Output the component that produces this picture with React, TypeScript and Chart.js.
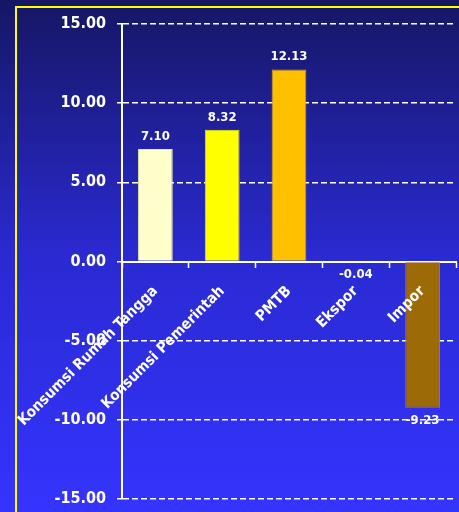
import React, { useEffect, useRef } from "react";
import { Chart, registerables } from "chart.js";

Chart.register(...registerables);

const categories = ["Konsumsi Rumah Tangga", "Konsumsi Pemerintah", "PMTB", "Ekspor", "Impor"];
const growthValues = [7.1, 8.32, 12.13, -0.04, -9.23];
const barColors = ["#ffffcc", "#ffff00", "#ffc000", "#cc9900", "#9c6a06"];
const barBorderColors = ["#e6e6b0", "#e6e600", "#d9a000", "#b08000", "#b07d20"];
const yMin = -15;
const yMax = 15;
const yStep = 5;

const FONT = "'Liberation Sans Narrow', 'DejaVu Sans Condensed', 'Liberation Sans', sans-serif";

const valueLabelPlugin = {
  id: "valueLabels",
  afterDatasetsDraw(chart: any) {
    const ctx = chart.ctx;
    const meta = chart.getDatasetMeta(0);
    ctx.save();
    ctx.font = `bold 13px ${FONT}`;
    ctx.fillStyle = "#ffffff";
    ctx.textAlign = "center";
    meta.data.forEach((bar: any, i: number) => {
      const v = growthValues[i];
      const { x, y } = bar.getProps(["x", "y"], true);
      const text = v.toFixed(2);
      if (v >= 0) {
        ctx.textBaseline = "bottom";
        ctx.fillText(text, x, y - 6);
      } else {
        ctx.textBaseline = "top";
        ctx.fillText(text, x, y + 6);
      }
    });
    ctx.restore();
  },
};

export default function App() {
  const canvasRef = useRef<HTMLCanvasElement | null>(null);

  useEffect(() => {
    if (!canvasRef.current) return;
    const chart = new Chart(canvasRef.current, {
      type: "bar",
      data: {
        labels: categories,
        datasets: [
          {
            data: growthValues,
            backgroundColor: barColors,
            borderColor: barBorderColors,
            borderWidth: 1,
            categoryPercentage: 1,
            barPercentage: 0.52,
          },
        ],
      },
      options: {
        responsive: false,
        animation: false,
        devicePixelRatio: 1,
        layout: { padding: { top: 24, bottom: 13, right: 3, left: 0 } },
        plugins: {
          legend: { display: false },
          tooltip: { enabled: false },
          title: { display: false },
        },
        scales: {
          y: {
            min: yMin,
            max: yMax,
            afterFit: (scale: any) => {
              scale.width = 122;
              scale.paddingTop = 0;
              scale.paddingBottom = 0;
            },
            ticks: {
              stepSize: yStep,
              color: "#ffffff",
              font: { family: FONT, size: 16, weight: "bold" },
              padding: 11,
              callback: (v: any) => Number(v).toFixed(2),
            },
            grid: {
              color: (c: any) => (c.tick && c.tick.value === 0 ? "rgba(0,0,0,0)" : "#ffffff"),
              lineWidth: 1.5,
              tickLength: 5,
              tickColor: "#ffffff",
              tickWidth: 1.5,
            },
            border: { display: true, color: "#ffffff", width: 2, dash: [6, 3] },
          },
          x: {
            position: { y: 0 } as any,
            offset: true,
            afterFit: (scale: any) => {
              scale.height = 0;
              scale.paddingLeft = 0;
              scale.paddingRight = 0;
              scale.paddingTop = 0;
              scale.paddingBottom = 0;
            },
            grid: {
              display: true,
              drawOnChartArea: false,
              drawTicks: true,
              tickLength: 5,
              tickColor: "#ffffff",
              tickWidth: 1.5,
              offset: true,
            },
            border: { display: true, color: "#ffffff", width: 2 },
            ticks: {
              color: "#ffffff",
              font: { family: FONT, size: 15, weight: "bold" },
              minRotation: 45,
              maxRotation: 45,
              autoSkip: false,
              padding: 16,
              z: 1,
            },
          },
        },
      },
      plugins: [valueLabelPlugin],
    });
    return () => chart.destroy();
  }, []);

  return (
    <div
      style={{
        position: "absolute",
        left: 0,
        top: 0,
        width: 459,
        height: 512,
        overflow: "hidden",
        background: "linear-gradient(to bottom, #161664 0%, #2a2ad2 50%, #3434ff 100%)",
      }}
    >
      <div
        style={{
          position: "absolute",
          left: 15,
          top: 6,
          width: 600,
          height: 700,
          borderLeft: "2px solid #ffff00",
          borderTop: "2px solid #ffff00",
        }}
      />
      <canvas
        ref={canvasRef}
        width={459}
        height={512}
        style={{ position: "absolute", left: 0, top: 0, width: 459, height: 512 }}
      />
    </div>
  );
}
